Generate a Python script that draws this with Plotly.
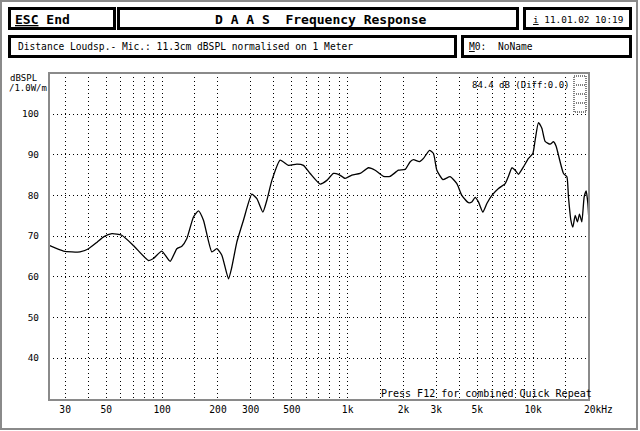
import plotly.graph_objects as go
import math

# ---------------- data ----------------
freq_hz = [24.6, 29.4, 36.1, 40.1, 44.6, 48.3, 53.6, 60.6, 70.0, 84.4, 89.8, 99.6,
           110.4, 120, 127.7, 135.9, 147.5, 156.9, 167, 185.3, 197.2, 209.8, 227.8,
           237.5, 252.7, 274.4, 304.4, 324, 349, 366.8, 390.3, 432.6, 479.6, 532.3,
           577.6, 627.9, 710.8, 772.4, 838.6, 892, 969.4, 1053, 1168, 1295, 1407,
           1560, 1695, 1879, 2042, 2173, 2263, 2438, 2563, 2761, 2901, 3026, 3261,
           3569, 3879, 4126, 4479, 4672, 4868, 5071, 5356, 5629, 5991, 6502, 7066,
           7360, 7679, 7998, 8332, 8863, 9434, 9963, 10250, 10680, 11140, 11600,
           12350, 12870, 13300, 13690, 14570, 15200, 15500, 15970, 16370, 16850,
           17330, 17770, 18300, 18830, 19310, 19720, 20040]
level_db = [67.7, 66.3, 66.1, 66.9, 68.5, 69.8, 70.6, 70.2, 67.7, 64.0, 64.5, 66.3,
            63.8, 66.9, 67.5, 69.4, 74.7, 76.2, 73.9, 66.1, 66.9, 65.3, 59.5,
            62.4, 68.5, 73.9, 80.3, 79.2, 75.9, 78.8, 83.7, 88.7, 87.4, 87.7,
            87.4, 85.4, 82.8, 83.7, 85.4, 85.2, 84.2, 85.0, 85.4, 86.8, 86.2,
            84.7, 84.7, 86.2, 86.4, 88.3, 88.8, 88.3, 89.1, 91.1, 90.3, 86.2, 83.9,
            84.6, 82.9, 80.0, 78.2, 78.4, 79.5, 78.4, 75.9, 78.0, 80.0, 81.7, 82.9,
            84.7, 86.8, 86.2, 85.2, 87.0, 89.1, 90.3, 93.6, 97.9, 96.5, 93.3,
            92.6, 93.2, 92.1, 89.9, 85.4, 84.6, 79.6, 73.9, 72.2, 75.1,
            73.5, 75.4, 73.5, 79.6, 81.1, 78.0, 72.7]

grid_freqs = [30, 40, 50, 60, 70, 80, 90, 100, 150, 200, 300, 400, 500, 600, 700,
              800, 900, 1000, 1500, 2000, 3000, 4000, 5000, 6000, 7000, 8000, 9000,
              10000, 15000]
label_freqs = [30, 50, 100, 200, 300, 500, 1000, 2000, 3000, 5000, 10000]
label_texts = ["30", "50", "100", "200", "300", "500", "1k", "2k", "3k", "5k", "10k"]
end_label = "20kHz"

db_ticks = [40, 50, 60, 70, 80, 90, 100]
db_labels = ["40", "50", "60", "70", "80", "90", "100"]

x_range_hz = [24.55, 20000]
y_range_db = [29.7, 110.1]

header_esc = "<u>ESC</u>\u00a0End"
header_title = "D A A S\u00a0\u00a0Frequency Response"
header_date = "<u>i</u>\u00a011.01.02\u00a010:19"
header_info = "Distance Loudsp.- Mic.: 11.3cm dBSPL normalised on 1 Meter"
header_mem = "<u>M</u>0:\u00a0\u00a0NoName"
level_note = "84.4 dB (Diff:0.0)"
footer_note = "Press F12 for combined Quick Repeat"
y_unit_1 = "dBSPL"
y_unit_2 = "/1.0W/m"

# ---------------- layout helpers ----------------
W, H = 640, 431
PL, PR, PT, PB = 49, 589, 73, 400
FONT = "DejaVu Sans Mono"


def px_x(X):
    return (X - PL) / (PR - PL)


def px_y(Y):
    return (PB - Y) / (PB - PT)


ticktext = []
for f in grid_freqs:
    ticktext.append(label_texts[label_freqs.index(f)] if f in label_freqs else "")

fig = go.Figure()
fig.add_trace(go.Scatter(
    x=freq_hz, y=level_db, mode="lines",
    line=dict(color="black", width=1.3, shape="spline", smoothing=0.5),
    hoverinfo="skip", showlegend=False,
))

shapes = []
# page border (dithered look)
shapes.append(dict(type="rect", xref="paper", yref="paper",
                   x0=px_x(1), x1=px_x(637), y0=px_y(1), y1=px_y(429),
                   line=dict(color="#8a8a8a", width=2)))
# plot border
shapes.append(dict(type="rect", xref="paper", yref="paper",
                   x0=0, x1=1, y0=0, y1=1,
                   line=dict(color="#8a8a8a", width=2)))
# header boxes
for (x0, x1, y0, y1) in [(9.5, 114.5, 8.5, 28.5), (118.5, 517.5, 8.5, 28.5),
                         (524.5, 630.5, 8.5, 28.5), (9.5, 455.5, 36.5, 56.5),
                         (462.5, 630.5, 36.5, 56.5)]:
    shapes.append(dict(type="rect", xref="paper", yref="paper",
                       x0=px_x(x0), x1=px_x(x1), y0=px_y(y0), y1=px_y(y1),
                       line=dict(color="black", width=3)))
# small dotted icon at top right of the plot
shapes.append(dict(type="rect", xref="paper", yref="paper",
                   x0=px_x(574), x1=px_x(586), y0=px_y(76), y1=px_y(112),
                   line=dict(color="black", width=1, dash="1px,1px")))
for yy in [85, 94, 103]:
    shapes.append(dict(type="line", xref="paper", yref="paper",
                       x0=px_x(576), x1=px_x(585), y0=px_y(yy), y1=px_y(yy),
                       line=dict(color="black", width=1, dash="1px,1px")))

ann = []


def text(s, X, Y, size=9.6, bold=False, xanchor="left", yanchor="middle"):
    ann.append(dict(text=("<b>%s</b>" % s) if bold else s, xref="paper", yref="paper",
                    x=px_x(X), y=px_y(Y), xanchor=xanchor, yanchor=yanchor,
                    showarrow=False, font=dict(family=FONT, size=size, color="black")))


text(header_esc, 13, 19, size=13, bold=True)
text(header_title, 320, 19, size=13, bold=True, xanchor="center")
text(header_date, 531, 19, size=9.4)
text(header_info, 16, 46.5, size=9.6)
text(header_mem, 467, 46.5, size=9.6)
text(level_note, 470, 85.5, size=9)
text(footer_note, 379, 401, size=10, yanchor="bottom")
text(y_unit_1, 23, 78, size=9, xanchor="center")
text(y_unit_2, 28, 88, size=9, xanchor="center")
text(end_label, 582, 409.5, size=9.6)

fig.update_layout(
    width=W, height=H,
    margin=dict(l=PL, r=W - PR, t=PT, b=H - PB, pad=0),
    paper_bgcolor="white", plot_bgcolor="white",
    showlegend=False, hovermode=False,
    shapes=shapes, annotations=ann,
    font=dict(family=FONT, size=9.6, color="black"),
    xaxis=dict(type="log", range=[math.log10(x_range_hz[0]), math.log10(x_range_hz[1])],
               tickmode="array", tickvals=grid_freqs, ticktext=ticktext,
               showgrid=True, gridcolor="black", gridwidth=1, griddash="1px,3px",
               zeroline=False, showline=False, ticks="", automargin=False,
               tickfont=dict(family=FONT, size=9.6, color="black"),
               ticklabelstandoff=2, fixedrange=True),
    yaxis=dict(range=y_range_db, tickmode="array", tickvals=db_ticks, ticktext=db_labels,
               showgrid=True, gridcolor="black", gridwidth=1, griddash="1px,3px",
               zeroline=False, showline=False, ticks="", automargin=False,
               tickfont=dict(family=FONT, size=9.4, color="black"),
               ticklabelstandoff=9, fixedrange=True),
)

fig.write_html("out.html", config=dict(displayModeBar=False, staticPlot=True),
               post_script="document.body.style.margin='0';document.body.style.overflow='hidden';")
